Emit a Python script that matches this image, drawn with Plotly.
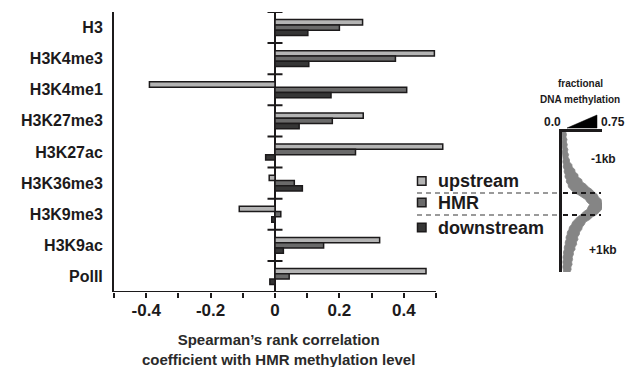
import plotly.graph_objects as go

# ---------------- data ----------------
categories = ["H3", "H3K4me3", "H3K4me1", "H3K27me3", "H3K27ac",
              "H3K36me3", "H3K9me3", "H3K9ac", "PolII"]
series_names = ["upstream", "HMR", "downstream"]
upstream = [0.272, 0.495, -0.390, 0.274, 0.521, -0.018, -0.111, 0.325, 0.469]
hmr = [0.200, 0.374, 0.409, 0.178, 0.250, 0.060, 0.018, 0.151, 0.044]
downstream = [0.102, 0.105, 0.174, 0.075, -0.029, 0.085, -0.010, 0.026, -0.016]

x_tickvals = [-0.5, -0.4, -0.3, -0.2, -0.1, 0.0, 0.1, 0.2, 0.3, 0.4, 0.5]
x_ticktext = ["", "-0.4", "", "-0.2", "", "0", "", "0.2", "", "0.4", ""]

# methylation profile across HMR (position bins from upstream to downstream)
profile_pos = [0, 2.5, 5, 7.5, 10, 12.5, 15, 17.5, 20, 22.5,
               25, 27.5, 30, 32.5, 35, 37.5, 40, 42.5, 45, 47.5,
               50, 52.5, 55, 57.5, 60, 62.5, 65, 67.5, 70, 72.5,
               75, 77.5, 80, 82.5, 85, 87.5, 90, 92.5, 95, 97.5,
               100, 102.5, 105, 107.5, 110, 112.5, 115, 117.5, 120, 122.5,
               125, 127.5, 130, 132.5, 135, 137.5, 140]
profile_low = [0.000, 0.006, 0.000, 0.008, 0.002, 0.010, 0.004, 0.014, 0.008, 0.016,
               0.010, 0.022, 0.016, 0.030, 0.022, 0.045, 0.040, 0.062, 0.055, 0.085,
               0.080, 0.115, 0.120, 0.175, 0.210, 0.300, 0.360, 0.440, 0.470, 0.520,
               0.490, 0.470, 0.400, 0.360, 0.290, 0.250, 0.200, 0.180, 0.140, 0.130,
               0.100, 0.098, 0.075, 0.080, 0.060, 0.062, 0.042, 0.045, 0.028, 0.032,
               0.018, 0.026, 0.016, 0.024, 0.015, 0.025, 0.028]
profile_high = [0.070, 0.085, 0.072, 0.095, 0.080, 0.100, 0.088, 0.112, 0.098, 0.125,
                0.110, 0.140, 0.140, 0.185, 0.190, 0.240, 0.245, 0.300, 0.300, 0.370,
                0.380, 0.450, 0.490, 0.560, 0.600, 0.660, 0.680, 0.735, 0.740, 0.775,
                0.760, 0.740, 0.700, 0.650, 0.570, 0.520, 0.440, 0.420, 0.380, 0.370,
                0.330, 0.325, 0.290, 0.300, 0.270, 0.275, 0.240, 0.245, 0.210, 0.215,
                0.190, 0.200, 0.180, 0.190, 0.165, 0.172, 0.150]
hmr_bounds = [61, 83]

# ---------------- style ----------------
W, H = 629, 367
def px(x):
    return x / W
def py(y):
    return 1 - y / H

def b(s):
    return f"<b>{s}</b>" if s else ""

INK = "#1c1a1b"
fills = ["#b4b4b4", "#6a6a6a", "#363636"]
FONT = "Liberation Sans"
X_MIN, X_MAX, X_VIEW = -0.5, 0.5, 0.56
PPU = 322  # pixels per unit on the bar axis

fig = go.Figure()
for name, vals, col in zip(series_names, [upstream, hmr, downstream], fills):
    fig.add_trace(go.Bar(
        y=categories, x=vals, name=name, orientation="h",
        marker=dict(color=col, line=dict(color=INK, width=1.5)),
        cliponaxis=False, showlegend=False, xaxis="x", yaxis="y"))

# profile band
fig.add_trace(go.Scatter(x=profile_low, y=profile_pos, mode="lines",
                         line=dict(color="#858585", width=0.8),
                         showlegend=False, xaxis="x2", yaxis="y2"))
fig.add_trace(go.Scatter(x=profile_high, y=profile_pos, mode="lines",
                         line=dict(color="#858585", width=0.8),
                         fill="tonextx", fillcolor="#858585",
                         showlegend=False, xaxis="x2", yaxis="y2"))

shapes = []
# bottom axis line spanning -0.5 .. 0.5 only
n = len(categories)
shapes.append(dict(type="line", xref="x", yref="y", x0=X_MIN, x1=X_MAX,
                   y0=n - 0.5, y1=n - 0.5, line=dict(color=INK, width=2)))
# small ticks on the zero line at group boundaries
half = 7.5 / PPU
for k in range(n):
    shapes.append(dict(type="line", xref="x", yref="y",
                       x0=-half, x1=half, y0=k - 0.5, y1=k - 0.5,
                       line=dict(color=INK, width=2)))

# dashed HMR boundary lines
for bd in hmr_bounds:
    shapes.append(dict(type="line", xref="paper", yref="y2",
                       x0=px(417), x1=px(561), y0=bd, y1=bd,
                       line=dict(color="#9a9a9a", width=2, dash="5px,4px")))
    shapes.append(dict(type="line", xref="paper", yref="y2",
                       x0=px(563), x1=px(601), y0=bd, y1=bd,
                       line=dict(color=INK, width=2, dash="5px,4px")))

# triangle (methylation scale)
shapes.append(dict(type="path", xref="paper", yref="paper",
                   path=f"M {px(567)} {py(128)} L {px(597)} {py(128)} L {px(597)} {py(115)} Z",
                   fillcolor="black", line=dict(color="black", width=0.5)))

# legend squares
leg_y = [181, 202.5, 227.5]
for yy, col in zip(leg_y, fills):
    shapes.append(dict(type="rect", xref="paper", yref="paper",
                       x0=px(417.5), x1=px(426), y0=py(yy - 4.2), y1=py(yy + 4.2),
                       fillcolor=col, line=dict(color=INK, width=1.5)))

annotations = []
for yy, name in zip(leg_y, series_names):
    annotations.append(dict(xref="paper", yref="paper", x=px(436), y=py(yy),
                            xanchor="left", yanchor="middle", showarrow=False,
                            text=b(name), font=dict(family=FONT, size=18, color=INK)))

annotations.append(dict(xref="paper", yref="paper", x=px(278), y=py(349),
                        xanchor="center", yanchor="middle", showarrow=False,
                        text=b("Spearman’s rank correlation") + "<br>" +
                             b("coefficient with HMR methylation level"),
                        font=dict(family=FONT, size=15, color="#2a2a2a")))

small = dict(family=FONT, size=10, color=INK)
mid = dict(family=FONT, size=12, color=INK)
for x, y, t, f in [(580, 83, "fractional", small), (580, 99, "DNA methylation", small),
                   (552, 122, "0.0", mid), (613, 122, "0.75", mid),
                   (603, 159, "-1kb", mid), (603, 250, "+1kb", mid)]:
    annotations.append(dict(xref="paper", yref="paper", x=px(x), y=py(y), text=b(t),
                            showarrow=False, xanchor="center", yanchor="middle", font=f))

x_left = 114
x_right = x_left + (X_VIEW - X_MIN) * PPU

fig.update_layout(
    width=W, height=H, margin=dict(l=0, r=0, t=0, b=0),
    paper_bgcolor="white", plot_bgcolor="white",
    barmode="group", bargap=0.49, bargroupgap=0,
    showlegend=False,
    shapes=shapes, annotations=annotations,
    xaxis=dict(domain=[px(x_left), px(x_right)], range=[X_MIN, X_VIEW], anchor="y",
               tickvals=x_tickvals, ticktext=[b(t) for t in x_ticktext],
               ticks="outside", ticklen=5, tickwidth=2, tickcolor=INK,
               ticklabelstandoff=-2,
               showline=False,
               showgrid=False, zeroline=True, zerolinecolor=INK, zerolinewidth=2,
               tickfont=dict(family=FONT, size=17, color=INK)),
    yaxis=dict(domain=[py(292), py(12)], anchor="x",
               categoryorder="array", categoryarray=categories,
               tickvals=categories, ticktext=[b(c) for c in categories],
               range=[n - 0.5, -0.5],
               showline=True, linecolor=INK, linewidth=2,
               showgrid=False, ticks="", ticklabelstandoff=6,
               tickfont=dict(family=FONT, size=16, color=INK)),
    xaxis2=dict(domain=[px(562), px(602)], range=[0, 0.75], anchor="y2",
                side="top", showline=True, linecolor=INK, linewidth=2.5,
                showticklabels=False, ticks="", showgrid=False, zeroline=False),
    yaxis2=dict(domain=[py(272), py(132)], range=[140, 0], anchor="x2",
                showline=True, linecolor=INK, linewidth=2.5,
                showticklabels=False, ticks="", showgrid=False, zeroline=False),
)

fig.write_html("out.html")
